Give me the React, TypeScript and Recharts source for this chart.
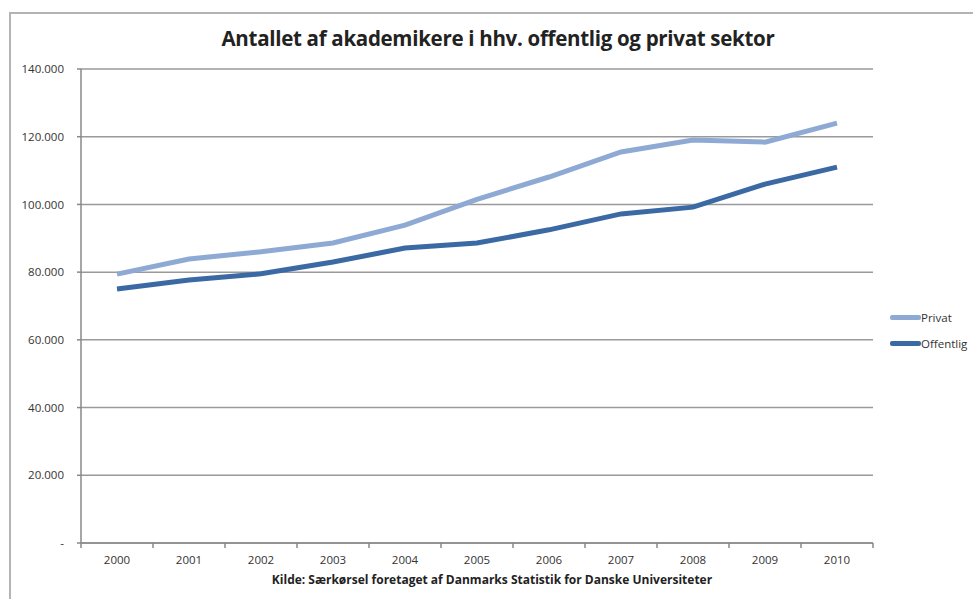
import React from "react";
import { LineChart, Line, XAxis, YAxis, CartesianGrid } from "recharts";

const years = ["2000", "2001", "2002", "2003", "2004", "2005", "2006", "2007", "2008", "2009", "2010"];
const privat = [79400, 83900, 86000, 88600, 93900, 101500, 108100, 115500, 119000, 118400, 124000];
const offentlig = [75000, 77700, 79500, 83000, 87100, 88600, 92500, 97200, 99200, 106000, 111000];
const yTicks = [0, 20000, 40000, 60000, 80000, 100000, 120000, 140000];

const title = "Antallet af akademikere i hhv. offentlig og privat sektor";
const source = "Kilde: Særkørsel foretaget af Danmarks Statistik for Danske Universiteter";

const data = years.map((y, i) => ({ year: y, Privat: privat[i], Offentlig: offentlig[i] }));

const FONT = "'Open Sans', 'Liberation Sans', sans-serif";
const C_PRIVAT = "#8eaad4";
const C_OFF = "#3b69a4";

const fmt = (v: number) => (v === 0 ? "-" : v.toLocaleString("en-US").replace(/,/g, "."));

const BAND = 72;

const XTick = (props: any) => {
  const { x, y, payload, index } = props;
  const last = index === years.length - 1;
  return (
    <g>
      <line x1={x - BAND / 2} y1={y - 8} x2={x - BAND / 2} y2={y - 3} stroke="#888" strokeWidth={1.5} />
      {last && <line x1={x + BAND / 2} y1={y - 8} x2={x + BAND / 2} y2={y - 3} stroke="#888" strokeWidth={1.5} />}
      <text x={x} y={y + 13} textAnchor="middle" fontSize={11.5} fill="#333" fontFamily={FONT}>
        {payload.value}
      </text>
    </g>
  );
};

const legendItems = [
  { name: "Privat", color: C_PRIVAT },
  { name: "Offentlig", color: C_OFF },
];

export default function App() {
  return (
    <div style={{ position: "absolute", left: 0, top: 0, width: 973, height: 599, overflow: "hidden", background: "#fff" }}>
      <div
        style={{
          position: "absolute",
          left: 9,
          top: 12,
          width: 990,
          height: 620,
          border: "2px solid #b4b4b4",
          boxSizing: "border-box",
        }}
      />
      <div
        style={{
          position: "absolute",
          left: 0,
          width: 996,
          top: 24,
          textAlign: "center",
          fontFamily: FONT,
          fontWeight: 700,
          fontSize: 20.5,
          letterSpacing: -0.3,
          color: "#222",
        }}
      >
        {title}
      </div>
      <div
        style={{
          position: "absolute",
          left: 0,
          width: 984,
          top: 571,
          textAlign: "center",
          fontFamily: FONT,
          fontWeight: 700,
          fontSize: 12,
          color: "#222",
        }}
      >
        {source}
      </div>
      <div style={{ position: "absolute", left: 0, top: 0 }}>
        <LineChart width={973} height={599} data={data} margin={{ top: 69, right: 100, bottom: 26, left: 0 }}>
          <CartesianGrid vertical={false} stroke="#9a9a9a" strokeWidth={1.5} />
          <XAxis
            dataKey="year"
            height={30}
            stroke="#888"
            strokeWidth={1.5}
            tickLine={false}
            tick={<XTick />}
            interval={0}
            padding={{ left: BAND / 2, right: BAND / 2 }}
          />
          <YAxis
            width={81}
            domain={[0, 140000]}
            ticks={yTicks}
            tickFormatter={fmt}
            stroke="#888"
            strokeWidth={1.5}
            tickSize={4}
            tickMargin={13}
            tick={{ fontSize: 11.5, fill: "#333", fontFamily: FONT }}
            interval={0}
          />
          <Line type="linear" dataKey="Privat" stroke={C_PRIVAT} strokeWidth={5} dot={false} isAnimationActive={false} />
          <Line type="linear" dataKey="Offentlig" stroke={C_OFF} strokeWidth={5} dot={false} isAnimationActive={false} />
        </LineChart>
      </div>
      <div style={{ position: "absolute", left: 890, top: 304, fontFamily: FONT, fontSize: 11.5, color: "#333" }}>
        {legendItems.map((it) => (
          <div key={it.name} style={{ display: "flex", alignItems: "center", height: 26 }}>
            <div style={{ width: 31, height: 5, background: it.color, borderRadius: 2 }} />
            <span>{it.name}</span>
          </div>
        ))}
      </div>
    </div>
  );
}
